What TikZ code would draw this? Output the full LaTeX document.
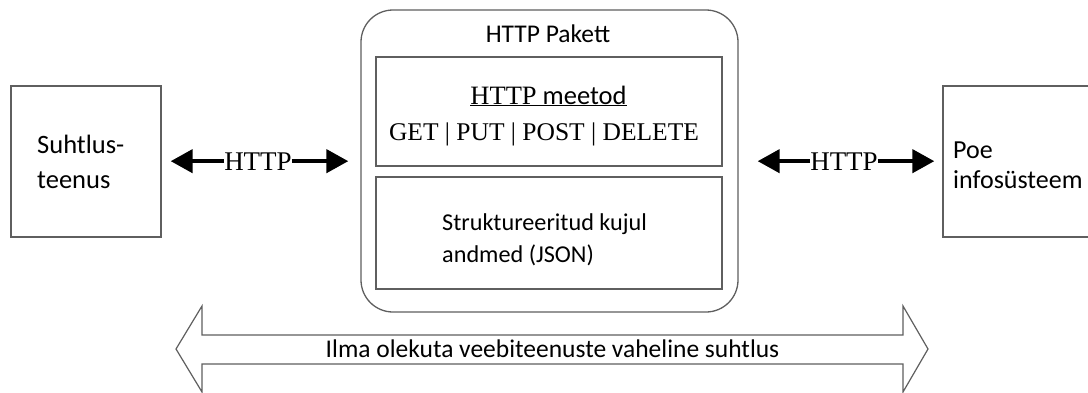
\documentclass[tikz,border=0pt]{standalone}
\usepackage{fontspec}
\setmainfont{Carlito}
\newfontfamily\serif{Liberation Serif}
\usetikzlibrary{arrows.meta,calc}
\definecolor{linegray}{RGB}{95,95,95}
\begin{document}
\begin{tikzpicture}[x=1pt,y=-1pt,
  box/.style={draw=linegray, line width=1.3pt, inner sep=0pt},
  txt/.style={inner sep=0pt},
  httplabel/.style={fill=white, inner sep=0pt, anchor=base, font=\serif\fontsize{27}{30}\selectfont},
  harrow/.style={line width=4.3pt, -{Triangle[length=22pt,width=23pt]}}
]
\clip (0,0) rectangle (1088,392);
\fill[white] (0,0) rectangle (1088,392);
% side boxes
\node[box, minimum width=150pt, minimum height=151pt] (lb) at (86,161.5) {};
\node[box, minimum width=157pt, minimum height=151pt] (rb) at (1021.5,161.5) {};
\node[txt, anchor=base west, align=left, font=\fontsize{26.5}{35}\selectfont] (lbt) at (37,188) {Suhtlus-\\teenus};
\node[txt, anchor=base west, align=left, font=\fontsize{26}{30}\selectfont] (rbt) at (953,188) {Poe\\infosüsteem};
% packet
\node[box, rounded corners=32pt, minimum width=377pt, minimum height=302pt] (pk) at (549.5,161) {};
\node[box, minimum width=346pt, minimum height=109pt] (m1) at (549,111.5) {};
\node[box, minimum width=346pt, minimum height=112pt] (m2) at (549,233) {};
\node[txt, anchor=base, font=\fontsize{25.5}{28}\selectfont] (title) at (548,42) {HTTP Pakett};
\node[txt, anchor=base, font=\fontsize{26.5}{28}\selectfont] (meth) at (548.5,104) {\underline{{\serif HTTP} meetod}};
\node[txt, anchor=base, font=\serif\fontsize{25.5}{30}\selectfont] (list) at (544,140) {GET | PUT | POST | DELETE};
\node[txt, anchor=base west, align=left, font=\fontsize{24.2}{32}\selectfont] (data) at (442,262) {Struktureeritud kujul\\andmed (JSON)};
% HTTP arrows
\node[httplabel] (h1) at (258,170) {HTTP};
\node[httplabel] (h2) at (844,170) {HTTP};
\draw[harrow] (h1.west) -- ($(lb.east|-h1.west)+(9,0)$);
\draw[harrow] (h1.east) -- ($(pk.west|-h1.east)+(-12,0)$);
\draw[harrow] (h2.west) -- ($(pk.east|-h2.west)+(19,0)$);
\draw[harrow] (h2.east) -- ($(rb.west|-h2.east)+(-8,0)$);
% bottom double arrow
\draw[draw=linegray, line width=1.2pt, line join=miter]
  (176,349) -- (202,306) -- (202,335) -- (903,335) -- (903,306) -- (928,349)
  -- (903,392) -- (903,364) -- (202,364) -- (202,392) -- cycle;
\node[txt, anchor=base, font=\fontsize{25.5}{30}\selectfont] (stateless) at (552.5,357) {Ilma olekuta veebiteenuste vaheline suhtlus};
\end{tikzpicture}
\end{document}
